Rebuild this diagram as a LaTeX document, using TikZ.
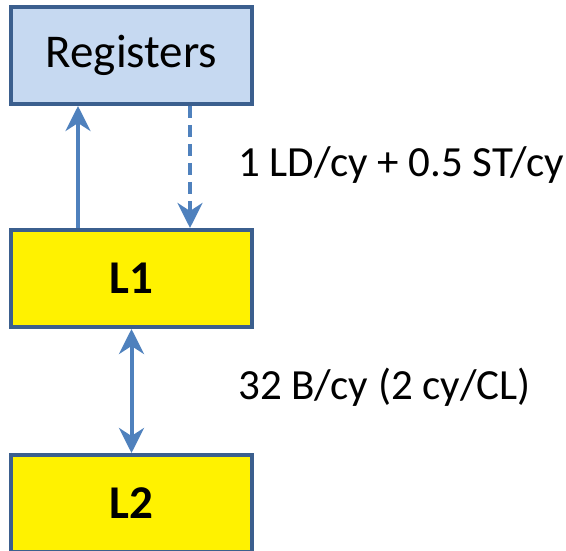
\documentclass[tikz,border=0pt]{standalone}
\usepackage{fontspec}
\setmainfont{Carlito}
\usepackage{xcolor}
\usepackage{tikz}
\usetikzlibrary{positioning,arrows.meta}

\definecolor{boxedge}{HTML}{3B5F8E}
\definecolor{regfill}{HTML}{C6D9F1}
\definecolor{linkblue}{HTML}{4F81BD}

\begin{document}
\begin{tikzpicture}[x=1pt,y=1pt,node distance=122pt,
    box/.style={rectangle, draw=boxedge, line width=4pt, minimum width=241pt, minimum height=97pt, inner sep=0pt, font=\fontsize{47}{50}\selectfont},
    cache/.style={box, fill=yellow, font=\fontsize{47}{50}\selectfont\bfseries},
    note/.style={anchor=west, inner sep=0pt, font=\fontsize{43}{46}\selectfont},
    link/.style={draw=linkblue, line width=4pt, -{Stealth[length=25pt, width=25pt, inset=8pt]}}]
        \useasboundingbox (0,0) rectangle (566,550);
        \node (reg) [box, fill=regfill] at (131.5,494.5) {Registers};
        \node (l1) [cache, below=of reg] {L1};
        \node (l2) [cache, below=124pt of l1] {L2};

        \draw[link] ([xshift=-53.5pt]l1.north) -- ([xshift=-53.5pt]reg.south);
        \draw[link, dash pattern=on 12pt off 7pt] ([xshift=58.5pt]reg.south) -- ([xshift=58.5pt]l1.north);
        \draw[link, {Stealth[length=25pt, width=25pt, inset=8pt]}-{Stealth[length=25pt, width=25pt, inset=8pt]}] (l1.south) -- (l2.north);

        \node (ldst) [note] at (238,385) {1 LD/cy + 0.5 ST/cy};
        \node (bw) [note] at (238,163) {32 B/cy (2 cy/CL)};
    \end{tikzpicture}
\end{document}
